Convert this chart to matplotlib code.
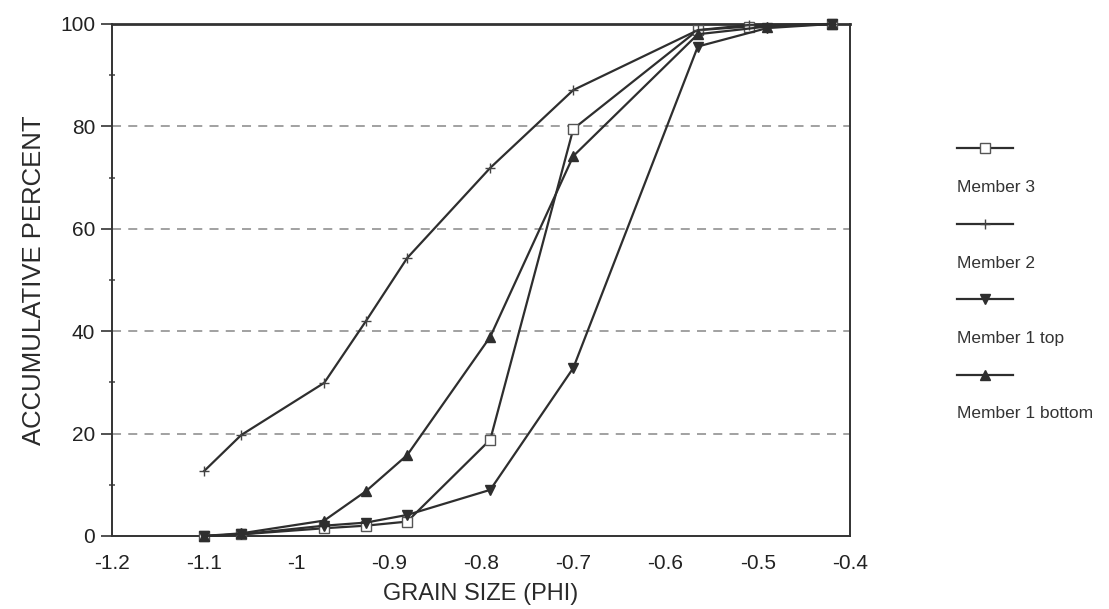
import matplotlib
matplotlib.use("Agg")
import matplotlib.pyplot as plt
from matplotlib.lines import Line2D
from matplotlib.ticker import MultipleLocator

plt.rcParams['font.family'] = ['Liberation Sans', 'DejaVu Sans']

# grain size (phi) and cumulative percent per member
m3_x = [-1.10, -1.06, -0.97, -0.925, -0.88, -0.79, -0.70, -0.565, -0.51, -0.42]
m3_y = [0.0, 0.3, 1.5, 2.0, 2.8, 18.8, 79.5, 98.8, 99.5, 100.0]

m2_x = [-1.10, -1.06, -0.97, -0.925, -0.88, -0.79, -0.70, -0.565, -0.51, -0.42]
m2_y = [12.7, 19.7, 29.9, 41.9, 54.3, 71.9, 87.1, 98.8, 99.8, 100.0]

m1t_x = [-1.10, -1.06, -0.97, -0.925, -0.88, -0.79, -0.70, -0.565, -0.49, -0.42]
m1t_y = [0.0, 0.3, 2.0, 2.6, 4.1, 9.0, 32.8, 95.6, 99.2, 100.0]

m1b_x = [-1.10, -1.06, -0.97, -0.925, -0.88, -0.79, -0.70, -0.565, -0.49, -0.42]
m1b_y = [0.0, 0.5, 3.0, 8.7, 15.8, 38.9, 74.2, 98.0, 99.5, 100.0]

labels = ['Member 3', 'Member 2', 'Member 1 top', 'Member 1 bottom']
x_ticks = [-1.2, -1.1, -1.0, -0.9, -0.8, -0.7, -0.6, -0.5, -0.4]
x_tick_labels = ['-1.2', '-1.1', '-1', '-0.9', '-0.8', '-0.7', '-0.6', '-0.5', '-0.4']
y_ticks = [0, 20, 40, 60, 80, 100]

line_c = '#2e2e2e'
styles = [
    dict(marker='s', markersize=6.5, markerfacecolor='white', markeredgecolor='#555555', markeredgewidth=1.0),
    dict(marker='+', markersize=7, markeredgewidth=1.0, markeredgecolor='#444444'),
    dict(marker='v', markersize=7.5, markerfacecolor=line_c, markeredgecolor=line_c),
    dict(marker='^', markersize=7.5, markerfacecolor=line_c, markeredgecolor=line_c),
]

fig = plt.figure(figsize=(11.09, 6.09), dpi=100)
ax = fig.add_axes([0.101, 0.12, 0.6655, 0.8406])

series = [(m3_x, m3_y), (m2_x, m2_y), (m1t_x, m1t_y), (m1b_x, m1b_y)]
for (xs, ys), st in zip(series, styles):
    ax.plot(xs, ys, color=line_c, linewidth=1.6, clip_on=False, zorder=3, **st)

ax.set_xlim(-1.2, -0.4)
ax.set_ylim(0, 100)
ax.set_xticks(x_ticks)
ax.set_xticklabels(x_tick_labels)
ax.set_yticks(y_ticks)
ax.yaxis.set_minor_locator(MultipleLocator(10))
ax.tick_params(axis='x', length=0, pad=13, labelsize=15, colors='#222222')
ax.tick_params(axis='y', which='major', length=8, width=1.1, direction='out',
               labelsize=15, colors='#222222', pad=4)
ax.tick_params(axis='y', which='minor', length=5, width=1.1, direction='inout', colors='#444444')

for y in [20, 40, 60, 80]:
    ax.axhline(y, color='#9a9a9a', linestyle=(0, (5, 4)), linewidth=1.3, zorder=1)

for side in ['left', 'right', 'top', 'bottom']:
    ax.spines[side].set_color('#333333')
    ax.spines[side].set_linewidth(1.4)
ax.spines['top'].set_linewidth(2.0)

ax.set_xlabel('GRAIN SIZE (PHI)', fontsize=17, color='#2a2a2a', labelpad=7)
ax.set_ylabel('ACCUMULATIVE PERCENT', fontsize=18.5, color='#2a2a2a', labelpad=10)

# legend: line sample with label underneath
sample_y = [148, 224, 299, 375]
for lab, st, py in zip(labels, styles, sample_y):
    fy = 1 - py / 609
    fig.add_artist(Line2D([957 / 1109, 1013 / 1109], [fy, fy], color=line_c,
                          linewidth=1.6, transform=fig.transFigure))
    fig.add_artist(Line2D([985 / 1109], [fy], color=line_c, linestyle='none',
                          transform=fig.transFigure, **st))
    fig.text(957 / 1109, 1 - (py + 39) / 609, lab, fontsize=12.5, color='#333333',
             va='center', ha='left')

fig.savefig('out.png', dpi=100)
